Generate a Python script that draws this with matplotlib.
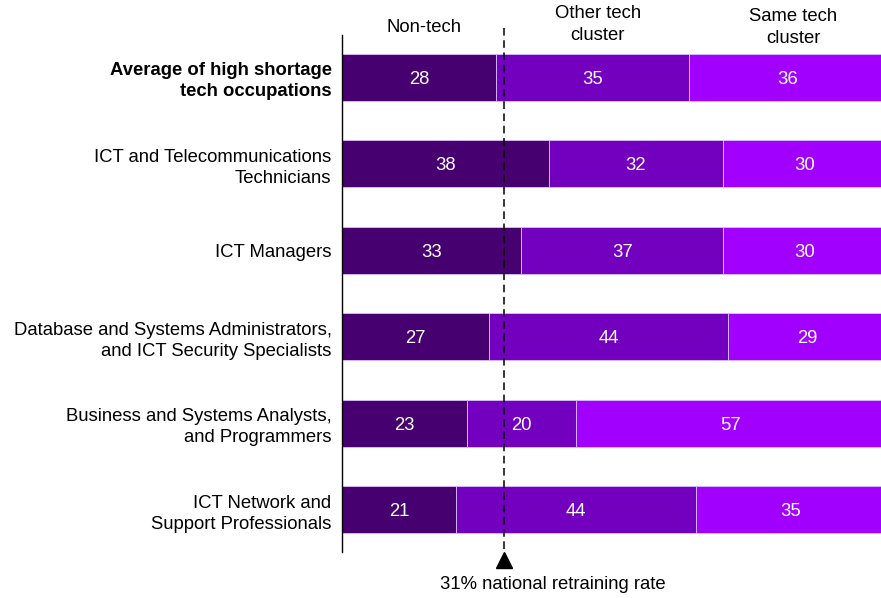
import matplotlib
matplotlib.use("Agg")
import matplotlib.pyplot as plt

plt.rcParams['font.family'] = ['Liberation Sans', 'DejaVu Sans']

categories = [
    "Average of high shortage\ntech occupations",
    "ICT and Telecommunications\nTechnicians",
    "ICT Managers",
    "Database and Systems Administrators,\nand ICT Security Specialists",
    "Business and Systems Analysts,\nand Programmers",
    "ICT Network and\nSupport Professionals",
]
series_names = ["Non-tech", "Other tech\ncluster", "Same tech\ncluster"]
non_tech = [28.4, 38, 33, 27, 23, 21]
other_tech = [35.4, 32, 37, 44, 20, 44]
same_tech = [36.2, 30, 30, 29, 57, 35]
colors = ["#460070", "#7200BE", "#A100FF"]
national_rate_label = "31% national retraining rate"
national_rate_pos = 29.7

FS = 13.3

fig = plt.figure(figsize=(8.81, 5.98), dpi=100)
ax = fig.add_axes([342/881, 1-552/598, 1-342/881, (552-35)/598])

y = list(range(len(categories)))
lefts = [0]*len(categories)
for vals, col in zip([non_tech, other_tech, same_tech], colors):
    ax.barh(y, vals, left=lefts, height=0.54, color=col,
            edgecolor="#d9bfff", linewidth=0.6)
    for yi, v, l in zip(y, vals, lefts):
        ax.text(l + v/2, yi, f"{v:.0f}", ha="center", va="center_baseline",
                color="white", fontsize=FS)
    lefts = [a + b for a, b in zip(lefts, vals)]

ax.set_xlim(0, 99.1)
ax.set_ylim(5.49, -0.49)
ax.set_yticks(y)
ax.set_yticklabels(categories, fontsize=FS, linespacing=1.3)
ax.get_yticklabels()[0].set_fontweight("bold")
ax.tick_params(axis="y", length=0, pad=7.5)
ax.set_xticks([])
for s in ["top", "right", "bottom"]:
    ax.spines[s].set_visible(False)
ax.spines["left"].set_linewidth(1.0)
ax.spines["left"].set_color("black")

# column headers
ax.text(15.1, -0.58, series_names[0], ha="center", va="center", fontsize=FS, clip_on=False)
ax.text(47.0, -0.61, series_names[1], ha="center", va="center", fontsize=FS, clip_on=False, linespacing=1.4)
ax.text(83.0, -0.58, series_names[2], ha="center", va="center", fontsize=FS, clip_on=False, linespacing=1.4)

# national retraining line
ax.plot([national_rate_pos, national_rate_pos], [-0.57, 5.45], color="black",
        linestyle=(0, (5, 3)), linewidth=1.1, clip_on=False, zorder=5)
ax.plot([national_rate_pos], [5.58], marker="^", markersize=12, color="black",
        clip_on=False, zorder=5)
ax.text(38.8, 5.87, national_rate_label, ha="center", va="center", fontsize=FS, clip_on=False)

fig.savefig("out.png", dpi=100)
